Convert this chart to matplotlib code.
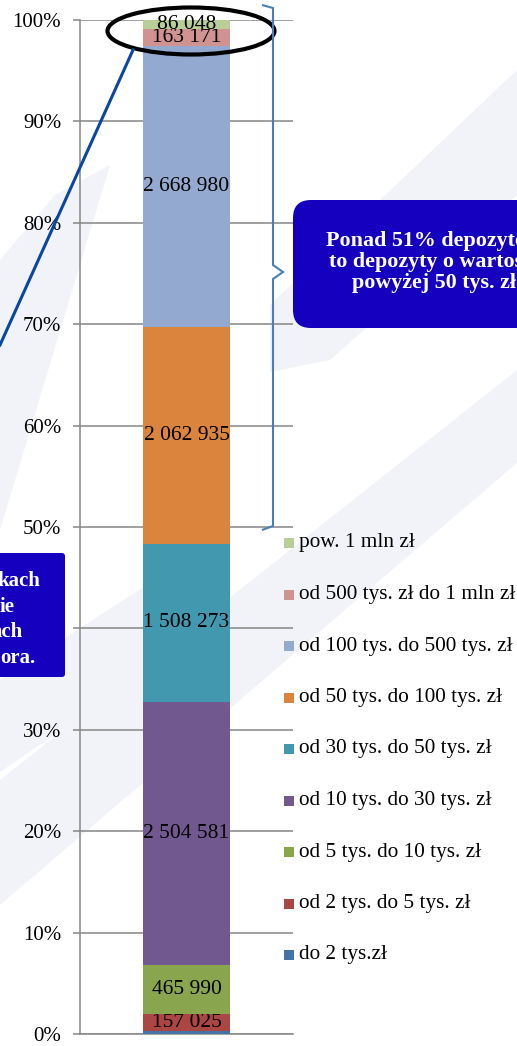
import matplotlib
matplotlib.use("Agg")
import matplotlib.pyplot as plt
from matplotlib.patches import Ellipse, FancyBboxPatch, Polygon, Rectangle, PathPatch
from matplotlib.path import Path
from matplotlib.lines import Line2D
from matplotlib.transforms import Affine2D

plt.rcParams['font.family'] = ['Liberation Serif', 'DejaVu Serif']

W, H = 517, 1046

# Data (bottom to top of the stacked bar)
categories = ["do 2 tys.zł", "od 2 tys. do 5 tys. zł", "od 5 tys. do 10 tys. zł",
              "od 10 tys. do 30 tys. zł", "od 30 tys. do 50 tys. zł",
              "od 50 tys. do 100 tys. zł", "od 100 tys. do 500 tys. zł",
              "od 500 tys. zł do 1 mln zł", "pow. 1 mln zł"]
values = [30000, 157025, 465990, 2504581, 1508273, 2062935, 2668980, 163171, 86048]
show_label = [False, True, True, True, True, True, True, True, True]
colors = ["#4572A7", "#AA4643", "#89A54E", "#71588F", "#4198AF",
          "#DB843D", "#93A9CF", "#D19392", "#B9CD96"]
y_ticks = [0, 10, 20, 30, 40, 50, 60, 70, 80, 90, 100]

total = sum(values)
shares = [v / total * 100 for v in values]

fig = plt.figure(figsize=(W / 100, H / 100), dpi=100)
# pixel transform, origin top-left
T = Affine2D().scale(1, -1).translate(0, H)

# faint watermark bands in the background
bg = "#f1f3f9"
bands = [
    [(55, 195), (110, 165), (0, 530), (0, 260)],
    [(0, 680), (150, 583), (150, 670), (0, 772)],
    [(0, 780), (517, 370), (517, 463), (0, 905)],
    [(517, 70), (517, 195), (330, 360), (270, 372), (270, 305), (380, 200)],
]
for pts in bands:
    fig.add_artist(Polygon(pts, closed=True, transform=T, facecolor=bg,
                           edgecolor="none", zorder=-10))

ax = fig.add_axes([80 / W, 12 / H, 213 / W, 1014 / H])
ax.patch.set_facecolor("none")

bottom = 0
for cat, sh, col, v, show in zip(categories, shares, colors, values, show_label):
    bars = ax.bar(0.5, sh, width=0.404, bottom=bottom, color=col, label=cat, zorder=3)
    lab = f"{v:,}".replace(",", " ") if show else ""
    ax.bar_label(bars, labels=[lab], label_type="center", fontsize=15.5, color="black")
    bottom += sh

ax.set_xlim(0, 1)
ax.set_ylim(0, 100)
ax.set_xticks([])
ax.set_yticks(y_ticks)
ax.set_yticklabels([f"{t}%" for t in y_ticks])
ax.tick_params(axis="y", length=5, width=1.1, color="#868686", pad=8.5, labelsize=15)
ax.yaxis.grid(True, color="#868686", lw=1.1)
ax.set_axisbelow(True)
for s in ["top", "right"]:
    ax.spines[s].set_visible(False)
for s in ["left", "bottom"]:
    ax.spines[s].set_color("#868686")
    ax.spines[s].set_linewidth(1.1)

# legend (top entry = last category)
for i, (cat, col) in enumerate(zip(categories[::-1], colors[::-1])):
    yc = 543 + i * 51.5
    fig.add_artist(Rectangle((284, yc - 5), 10, 10, transform=T, facecolor=col,
                             edgecolor="none"))
    fig.text(299, yc, cat, transform=T, fontsize=15.3, va="center", ha="left")

# ellipse highlighting the top segments and its leader line
fig.add_artist(Line2D([133, 0], [50, 345], transform=T, color="#0b47a1", lw=2.2))
fig.add_artist(Ellipse((191, 31), 167, 47, transform=T, facecolor="none",
                       edgecolor="black", lw=3))

# curly brace on the right
brace = [(262, 5), (273, 8), (273, 265), (283, 272), (273, 279), (273, 526), (262, 530)]
fig.add_artist(PathPatch(Path(brace), transform=T, facecolor="none",
                         edgecolor="#4a7ebb", lw=1.5))

# callout box on the right
fig.add_artist(FancyBboxPatch((293, 200), 260, 128, transform=T,
                              boxstyle="round,pad=0,rounding_size=18",
                              facecolor="#1400BE", edgecolor="none"))
fig.text(434, 262, "Ponad 51% depozytów\nto depozyty o wartości\npowyżej 50 tys. zł",
         transform=T, ha="center", va="center", color="white", fontsize=15.8,
         fontweight="bold", linespacing=1.08)

# callout box on the left (cut off by the image edge)
fig.add_artist(FancyBboxPatch((-30, 553), 95, 124, transform=T,
                              boxstyle="round,pad=0,rounding_size=3",
                              facecolor="#1400BE", edgecolor="none"))
for frag, xe, yb in [("kach", 40, 586), ("ie", 15, 612), ("ach", 23, 637), ("ora.", 35, 663)]:
    fig.text(xe, yb, frag, transform=T, ha="right", va="baseline", color="white",
             fontsize=15, fontweight="bold")

fig.savefig("out.png", dpi=100)
